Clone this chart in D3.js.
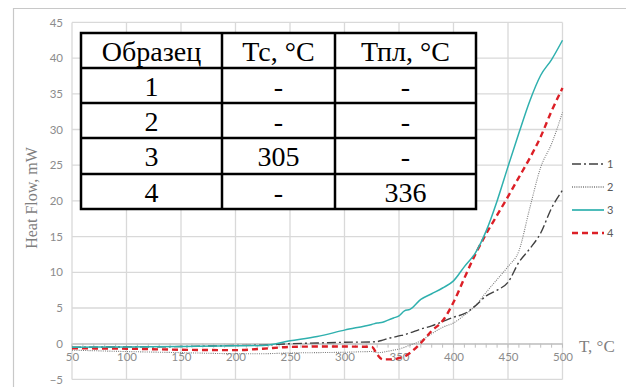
<!DOCTYPE html>
<html><head><meta charset="utf-8">
<script src="https://cdn.jsdelivr.net/npm/d3@7/dist/d3.min.js"></script>
<style>
html,body{margin:0;padding:0;background:#fff;}
svg{display:block;}
</style></head>
<body>
<svg id="chart" width="626" height="387"></svg>
<script>
// ---- data ----
const temps = [50,100,150,200,225,250,275,300,325,330,335,340,345,350,355,360,370,380,390,400,410,420,430,440,450,460,470,480,490,500];
const series1 = [-0.5,-0.45,-0.4,-0.25,-0.2,0.0,0.1,0.2,0.25,0.3,0.5,0.75,0.9,1.1,1.25,1.5,2.05,2.5,3.1,3.7,4.2,5.3,6.7,7.5,8.6,11.4,13.3,15.5,19.0,21.5];
const series2 = [-0.9,-1.1,-1.25,-1.4,-1.4,-1.3,-1.25,-1.2,-1.1,-1.25,-1.2,-1.05,-0.9,-0.75,-0.5,-0.2,0.4,1.4,2.3,2.9,4.0,5.3,7.2,9.0,10.8,13.0,19.0,24.7,28.0,32.4];
const series3 = [-0.5,-0.45,-0.4,-0.3,-0.25,0.4,1.0,1.9,2.7,2.9,3.0,3.3,3.6,3.9,4.6,4.8,6.2,7.0,7.8,8.8,10.8,12.7,15.8,20.0,24.8,29.5,34.0,37.6,39.8,42.5];
const series4 = [-0.65,-0.7,-0.85,-0.9,-0.7,-0.45,-0.4,-0.4,-0.45,-1.5,-2.2,-2.2,-2.2,-2.0,-1.8,-1.3,0.1,1.8,3.2,5.8,9.2,12.5,15.4,18.0,20.6,23.3,26.0,29.0,32.6,35.8];
const seriesNames = ["1","2","3","4"];
const xTicks = [50,100,150,200,250,300,350,400,450,500];
const yTicks = [-5,0,5,10,15,20,25,30,35,40,45];
const tableHeader = ["Образец","Тс, °С","Тпл, °С"];
const tableRows = [["1","-","-"],["2","-","-"],["3","305","-"],["4","-","336"]];

// ---- layout ----
const svg = d3.select("#chart");
const x = d3.scaleLinear().domain([50,500]).range([72,562.5]);
const y = d3.scaleLinear().domain([-5,45]).range([379.4,22.4]);

// outer frame
svg.append("path").attr("d","M13.5,387 L13.5,8.5 L626,8.5").attr("fill","none").attr("stroke","#c8c8c8").attr("stroke-width",1.2);

// gridlines
const grid = svg.append("g");
grid.selectAll("line.h").data(yTicks).join("line")
  .attr("x1",x(50)).attr("x2",x(500)).attr("y1",d=>y(d)).attr("y2",d=>y(d))
  .attr("stroke","#d9d9d9").attr("stroke-width",1.3);
grid.selectAll("line.v").data(xTicks).join("line")
  .attr("x1",d=>x(d)).attr("x2",d=>x(d)).attr("y1",y(-5)).attr("y2",y(45))
  .attr("stroke","#d9d9d9").attr("stroke-width",1.3);

// y axis labels
const yAxis = d3.axisLeft(y).tickValues(yTicks).tickSize(0).tickPadding(9);
const gy = svg.append("g").attr("transform",`translate(${x(50)},0)`).call(yAxis);
gy.select(".domain").remove();
gy.selectAll("text").attr("font-family","Lato, 'Open Sans', sans-serif").attr("font-size",11.5).attr("fill","#8c8c8c");

// x axis at y=0
const xAxis = d3.axisBottom(x).tickValues(xTicks).tickSize(0).tickPadding(9);
const gx = svg.append("g").attr("transform",`translate(0,${y(0)})`).call(xAxis);
gx.select(".domain").attr("stroke","#bfbfbf").attr("stroke-width",1.2);
gx.selectAll("text").attr("font-family","Lato, 'Open Sans', sans-serif").attr("font-size",11.5).attr("fill","#8c8c8c");
const minor = d3.range(50,501,10);
svg.append("g").selectAll("line").data(minor).join("line")
  .attr("x1",d=>x(d)).attr("x2",d=>x(d)).attr("y1",y(0)).attr("y2",y(0)+4)
  .attr("stroke","#bfbfbf").attr("stroke-width",1);

// series lines
const styles = [
  {stroke:"#404040", width:1.4, dash:"9,3,2,3"},
  {stroke:"#7a7a7a", width:1.1, dash:"1,1.2"},
  {stroke:"#2fb0ae", width:1.5, dash:null},
  {stroke:"#dc1f26", width:2.4, dash:"6,4"}
];
const allSeries = [series1,series2,series3,series4];
const line = d3.line().x((d,i)=>x(temps[i])).y(d=>y(d)).curve(d3.curveMonotoneX);
const order = [1,0,3,2];
order.forEach(k=>{
  const p = svg.append("path").datum(allSeries[k]).attr("d",line)
    .attr("fill","none").attr("stroke",styles[k].stroke).attr("stroke-width",styles[k].width)
    .attr("stroke-linejoin","round");
  if(styles[k].dash) p.attr("stroke-dasharray",styles[k].dash);
});

// legend
const lg = svg.append("g");
seriesNames.forEach((n,i)=>{
  const yy = 164 + i*23;
  const l = lg.append("line").attr("x1",572).attr("x2",604).attr("y1",yy).attr("y2",yy)
    .attr("stroke",styles[i].stroke).attr("stroke-width",styles[i].width+ (i===3?0:0.2));
  if(styles[i].dash) l.attr("stroke-dasharray",styles[i].dash);
  lg.append("text").attr("x",607).attr("y",yy+4).text(n)
    .attr("font-family","Lato, 'Open Sans', sans-serif").attr("font-size",11).attr("fill","#595959");
});

// axis titles
svg.append("text").attr("transform","translate(37,198) rotate(-90)").attr("text-anchor","middle")
  .attr("font-family","'Liberation Serif', serif").attr("font-size",16).attr("fill","#7f7f7f").text("Heat Flow, mW");
svg.append("text").attr("x",579).attr("y",352)
  .attr("font-family","'Liberation Serif', serif").attr("font-size",17).attr("fill","#7f7f7f").text("T, °C");

// table
const colX = [81,222,335,476];
const rowY = [33,68,103,138,174,209];
const tg = svg.append("g");
tg.append("rect").attr("x",colX[0]).attr("y",rowY[0]).attr("width",colX[3]-colX[0]).attr("height",rowY[5]-rowY[0])
  .attr("fill","#fff").attr("stroke","#000").attr("stroke-width",2.5);
rowY.slice(1,5).forEach(r=>tg.append("line").attr("x1",colX[0]).attr("x2",colX[3]).attr("y1",r).attr("y2",r).attr("stroke","#000").attr("stroke-width",2.5));
colX.slice(1,3).forEach(c=>tg.append("line").attr("x1",c).attr("x2",c).attr("y1",rowY[0]).attr("y2",rowY[5]).attr("stroke","#000").attr("stroke-width",2.5));
const allRows = [tableHeader].concat(tableRows);
allRows.forEach((row,ri)=>{
  row.forEach((cell,ci)=>{
    const cx = (colX[ci]+colX[ci+1])/2;
    const cy = (rowY[ri]+rowY[ri+1])/2;
    tg.append("text").attr("x",cx).attr("y",cy+10).attr("text-anchor","middle")
      .attr("font-family","'Liberation Serif', 'Times New Roman', serif").attr("font-size",28).attr("fill","#000")
      .text(cell);
  });
});
</script>
</body></html>
